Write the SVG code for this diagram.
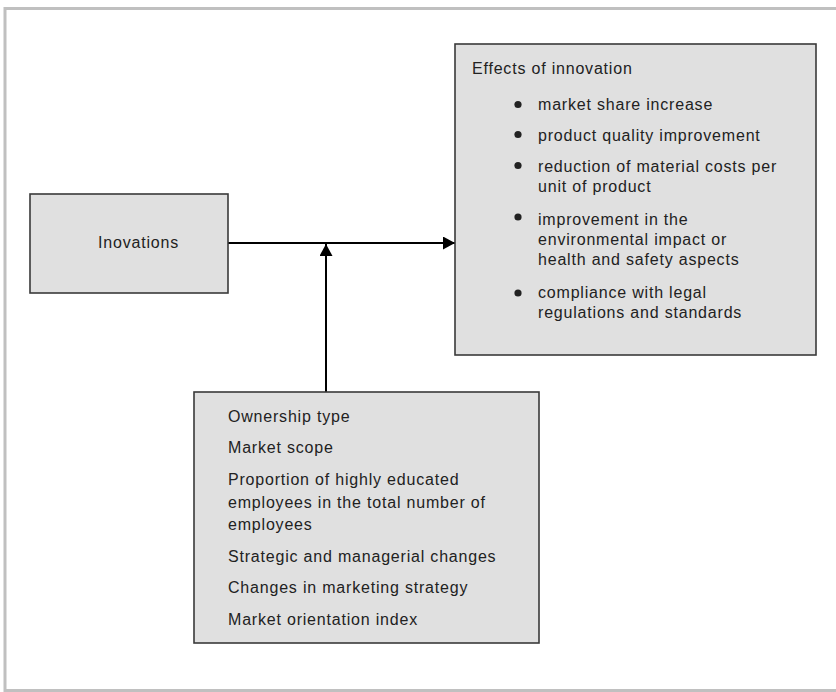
<svg xmlns="http://www.w3.org/2000/svg" width="836" height="692" viewBox="0 0 836 692">
<style>
.box{fill:#e0e0e0;stroke:#3a3a3a;stroke-width:1.6}
.t{font-family:"Liberation Sans",Arial,sans-serif;font-size:16px;letter-spacing:0.8px;fill:#222}
.ln{stroke:#000;stroke-width:2;fill:none}
.frame{stroke:#c0c0c0;stroke-width:3;fill:none}
</style>
<defs>
<marker id="ah" markerWidth="13" markerHeight="13" refX="12" refY="6.5" orient="auto" markerUnits="userSpaceOnUse">
<path d="M0,0 L12,6.5 L0,13 Z" fill="#000"/>
</marker>
</defs>
<rect width="836" height="692" fill="#fff"/>
<path class="frame" d="M838,8.5 H5 V690.5 H838"/>
<g id="connectors">
<line class="ln" x1="228" y1="243" x2="455" y2="243" marker-end="url(#ah)"/>
<line class="ln" x1="326" y1="392" x2="326" y2="244" marker-end="url(#ah)"/>
</g>
<g id="inovations">
<rect class="box" x="30" y="194" width="198" height="99"/>
<text class="t" x="98" y="248">Inovations</text>
</g>
<g id="effects">
<rect class="box" x="455" y="44" width="361" height="311"/>
<text class="t" x="472" y="74">Effects of innovation</text>
<g fill="#222">
<circle cx="518" cy="104.5" r="3.6"/>
<circle cx="518" cy="134.5" r="3.6"/>
<circle cx="518" cy="165.5" r="3.6"/>
<circle cx="518" cy="217" r="3.6"/>
<circle cx="518" cy="293" r="3.6"/>
</g>
<text class="t" x="538" y="110">market share increase</text>
<text class="t" x="538" y="141">product quality improvement</text>
<text class="t" x="538" y="172">reduction of material costs per</text>
<text class="t" x="538" y="192">unit of product</text>
<text class="t" x="538" y="225">improvement in the</text>
<text class="t" x="538" y="245">environmental impact or</text>
<text class="t" x="538" y="265">health and safety aspects</text>
<text class="t" x="538" y="298">compliance with legal</text>
<text class="t" x="538" y="318">regulations and standards</text>
</g>
<g id="factors">
<rect class="box" x="194" y="392" width="345" height="251"/>
<text class="t" x="228" y="422">Ownership type</text>
<text class="t" x="228" y="453">Market scope</text>
<text class="t" x="228" y="485">Proportion of highly educated</text>
<text class="t" x="228" y="508">employees in the total number of</text>
<text class="t" x="228" y="530">employees</text>
<text class="t" x="228" y="562">Strategic and managerial changes</text>
<text class="t" x="228" y="593">Changes in marketing strategy</text>
<text class="t" x="228" y="625">Market orientation index</text>
</g>
</svg>
